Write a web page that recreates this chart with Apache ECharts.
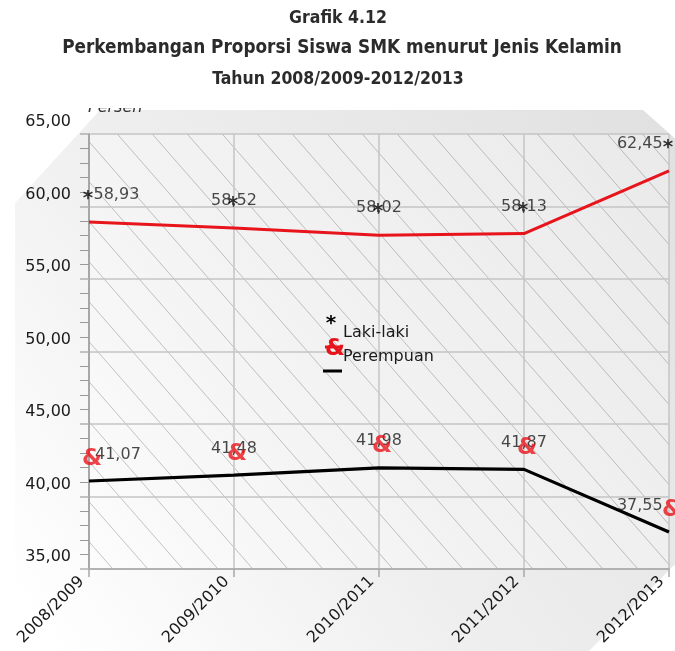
<!DOCTYPE html>
<html>
<head>
<meta charset="utf-8">
<script src="https://cdn.jsdelivr.net/npm/echarts@6.0.0/dist/echarts.min.js"></script>
<style>
  html, body { margin: 0; padding: 0; background: #fff; }
  #chart { width: 675px; height: 651px; }
</style>
</head>
<body>
<div id="chart"></div>
<script>
var years = ['2008/2009', '2009/2010', '2010/2011', '2011/2012', '2012/2013'];
var lakiLaki = [58.93, 58.52, 58.02, 58.13, 62.45];
var perempuan = [41.07, 41.48, 41.98, 41.87, 37.55];
var yMin = 35, yMax = 65, yStep = 5;
var titleLines = ['Grafik 4.12', 'Perkembangan Proporsi Siswa SMK menurut Jenis Kelamin', 'Tahun 2008/2009-2012/2013'];
var legendNames = ['Laki-laki', 'Perempuan'];

var FONT = 'DejaVu Sans';
var RED = '#e8141c';

var fmt = function(v) {
  return v.toFixed(2).replace('.', ',');
};

// hatch tile for plot area
var tile = document.createElement('canvas');
tile.width = 35;
tile.height = 40;
var tc = tile.getContext('2d');
tc.fillStyle = 'rgba(255,255,255,0.3)';
tc.fillRect(0, 0, 35, 40);
tc.strokeStyle = 'rgba(110,110,110,0.5)';
tc.lineWidth = 0.8;
for (var k = -1; k <= 1; k++) {
  tc.beginPath();
  tc.moveTo(k * 35, 0);
  tc.lineTo(k * 35 + 35, 40);
  tc.stroke();
}

var labelData = function(values, dy, dxL, dxR) {
  return values.map(function(v, i) {
    var last = values.length - 1;
    var align = i === 0 ? 'left' : (i === last ? 'right' : 'center');
    var dx = i === 0 ? dxL : (i === last ? dxR : 0);
    return {
      value: [years[i], v],
      label: { align: align, offset: [dx, dy] }
    };
  });
};

var pointData = function(values) {
  return values.map(function(v, i) { return [years[i], v]; });
};

var textSeries = function(name, data, formatter, style) {
  return {
    name: name,
    type: 'scatter',
    data: data,
    symbolSize: 1,
    itemStyle: { color: 'rgba(0,0,0,0)' },
    silent: true,
    z: style.z || 5,
    label: Object.assign({
      show: true,
      position: 'inside',
      verticalAlign: 'middle',
      formatter: formatter,
      fontFamily: FONT
    }, style.label)
  };
};

var titleSizes = [17.5, 18.8, 17.5];
var titleX = [338, 342, 338];
var titleGraphics = titleLines.map(function(t, i) {
  return {
    type: 'text',
    x: titleX[i],
    y: 18 + i * 30.5,
    z: 30,
    style: {
      text: t,
      font: 'bold ' + titleSizes[i] + 'px "DejaVu Sans Condensed", "DejaVu Sans"',
      fill: '#2b2b2b',
      align: 'center',
      verticalAlign: 'middle'
    }
  };
});

var chart = echarts.init(document.getElementById('chart'), null, { renderer: 'canvas' });

var option = {
  animation: false,
  backgroundColor: '#fff',
  graphic: titleGraphics.concat([
    {
      type: 'polygon',
      z: -10,
      silent: true,
      shape: {
        points: [[100, 110], [643, 110], [690, 152], [690, 549], [585, 655], [15, 655], [15, 203]]
      },
      style: {
        fill: new echarts.graphic.LinearGradient(1, 0, 0, 0.9, [
          { offset: 0, color: '#e0e0e0' },
          { offset: 0.6, color: '#efefef' },
          { offset: 1, color: '#ffffff' }
        ])
      }
    },
    {
      type: 'text',
      left: 88,
      top: 100,
      z: 1,
      style: { text: 'Persen', font: 'italic 16px ' + FONT, fill: '#333' }
    },
    {
      type: 'rect',
      z: 2,
      shape: { x: 80, y: 92, width: 80, height: 16 },
      style: { fill: '#fff' }
    },
    // legend (drawn as in the source)
    {
      type: 'text', x: 331, y: 324, z: 20,
      style: { text: '*', font: 'bold 20px ' + FONT, fill: '#000', align: 'center', verticalAlign: 'middle' }
    },
    {
      type: 'line', z: 20,
      shape: { x1: 325, y1: 347, x2: 340, y2: 347 },
      style: { stroke: RED, lineWidth: 3 }
    },
    {
      type: 'text', x: 335, y: 349, z: 21,
      style: { text: '&', font: 'bold 23px ' + FONT, fill: RED, align: 'center', verticalAlign: 'middle' }
    },
    {
      type: 'text', x: 343, y: 333, z: 20,
      style: { text: legendNames[0], font: '16px ' + FONT, fill: '#1a1a1a', verticalAlign: 'middle' }
    },
    {
      type: 'text', x: 343, y: 357, z: 22,
      style: { text: legendNames[1], font: '16px ' + FONT, fill: '#1a1a1a', verticalAlign: 'middle' }
    },
    {
      type: 'line', z: 20,
      shape: { x1: 323, y1: 371, x2: 342, y2: 371 },
      style: { stroke: '#000', lineWidth: 3 }
    }
  ]),
  grid: {
    left: 89,
    right: 6,
    top: 134,
    bottom: 82,
    show: true,
    borderWidth: 0,
    backgroundColor: { image: tile, repeat: 'repeat' },
    outerBoundsMode: 'none'
  },
  xAxis: {
    type: 'category',
    data: years,
    boundaryGap: false,
    axisLine: { lineStyle: { color: '#a8a8a8', width: 1.5 } },
    axisTick: { show: true, length: 8, alignWithLabel: true, lineStyle: { color: '#a8a8a8', width: 1.5 } },
    splitLine: { show: true, lineStyle: { color: '#c4c4c4', width: 1.5 } },
    axisLabel: {
      interval: 0,
      rotate: 45,
      margin: 3,
      fontFamily: FONT,
      fontSize: 16,
      color: '#1a1a1a',
      formatter: function(v) { return v + '\u00a0\u00a0'; }
    }
  },
  yAxis: {
    type: 'value',
    min: yMin,
    max: yMax,
    interval: yStep,
    axisLine: { show: true, lineStyle: { color: '#999', width: 1.5 } },
    axisTick: { show: true, length: 9, lineStyle: { color: '#b0b0b0', width: 1.5 } },
    minorTick: { show: true, splitNumber: 5, length: 9, lineStyle: { color: '#999', width: 1 } },
    splitLine: { show: true, lineStyle: { color: '#c4c4c4', width: 1.5 } },
    axisLabel: {
      margin: 18,
      fontFamily: FONT,
      fontSize: 16,
      color: '#1a1a1a',
      verticalAlign: 'bottom',
      lineHeight: 24,
      formatter: fmt
    }
  },
  series: [
    {
      name: legendNames[0],
      type: 'line',
      data: lakiLaki,
      symbol: 'none',
      z: 3,
      lineStyle: { color: RED, width: 3 }
    },
    {
      name: legendNames[1],
      type: 'line',
      data: perempuan,
      symbol: 'none',
      z: 3,
      lineStyle: { color: '#000', width: 3.2 }
    },
    textSeries('lakiValue', labelData(lakiLaki, -27, 4.5, -6.3), function(p) { return fmt(p.value[1]); },
      { label: { fontSize: 16, color: '#1a1a1a' } }),
    textSeries('perempuanValue', labelData(perempuan, -26.5, 6, -6.3), function(p) { return fmt(p.value[1]); },
      { label: { fontSize: 16, color: '#1a1a1a' } }),
    textSeries('lakiMark', pointData(lakiLaki), function() { return '*'; },
      { z: 6, label: { fontSize: 20, fontWeight: 'bold', color: '#000', align: 'center', offset: [-1, -23] } }),
    textSeries('perempuanMark', pointData(perempuan), function() { return '&'; },
      { z: 6, label: { fontSize: 23, fontWeight: 'bold', color: RED, align: 'center', offset: [3, -21.5] } })
  ]
};

chart.setOption(option);
</script>
</body>
</html>
